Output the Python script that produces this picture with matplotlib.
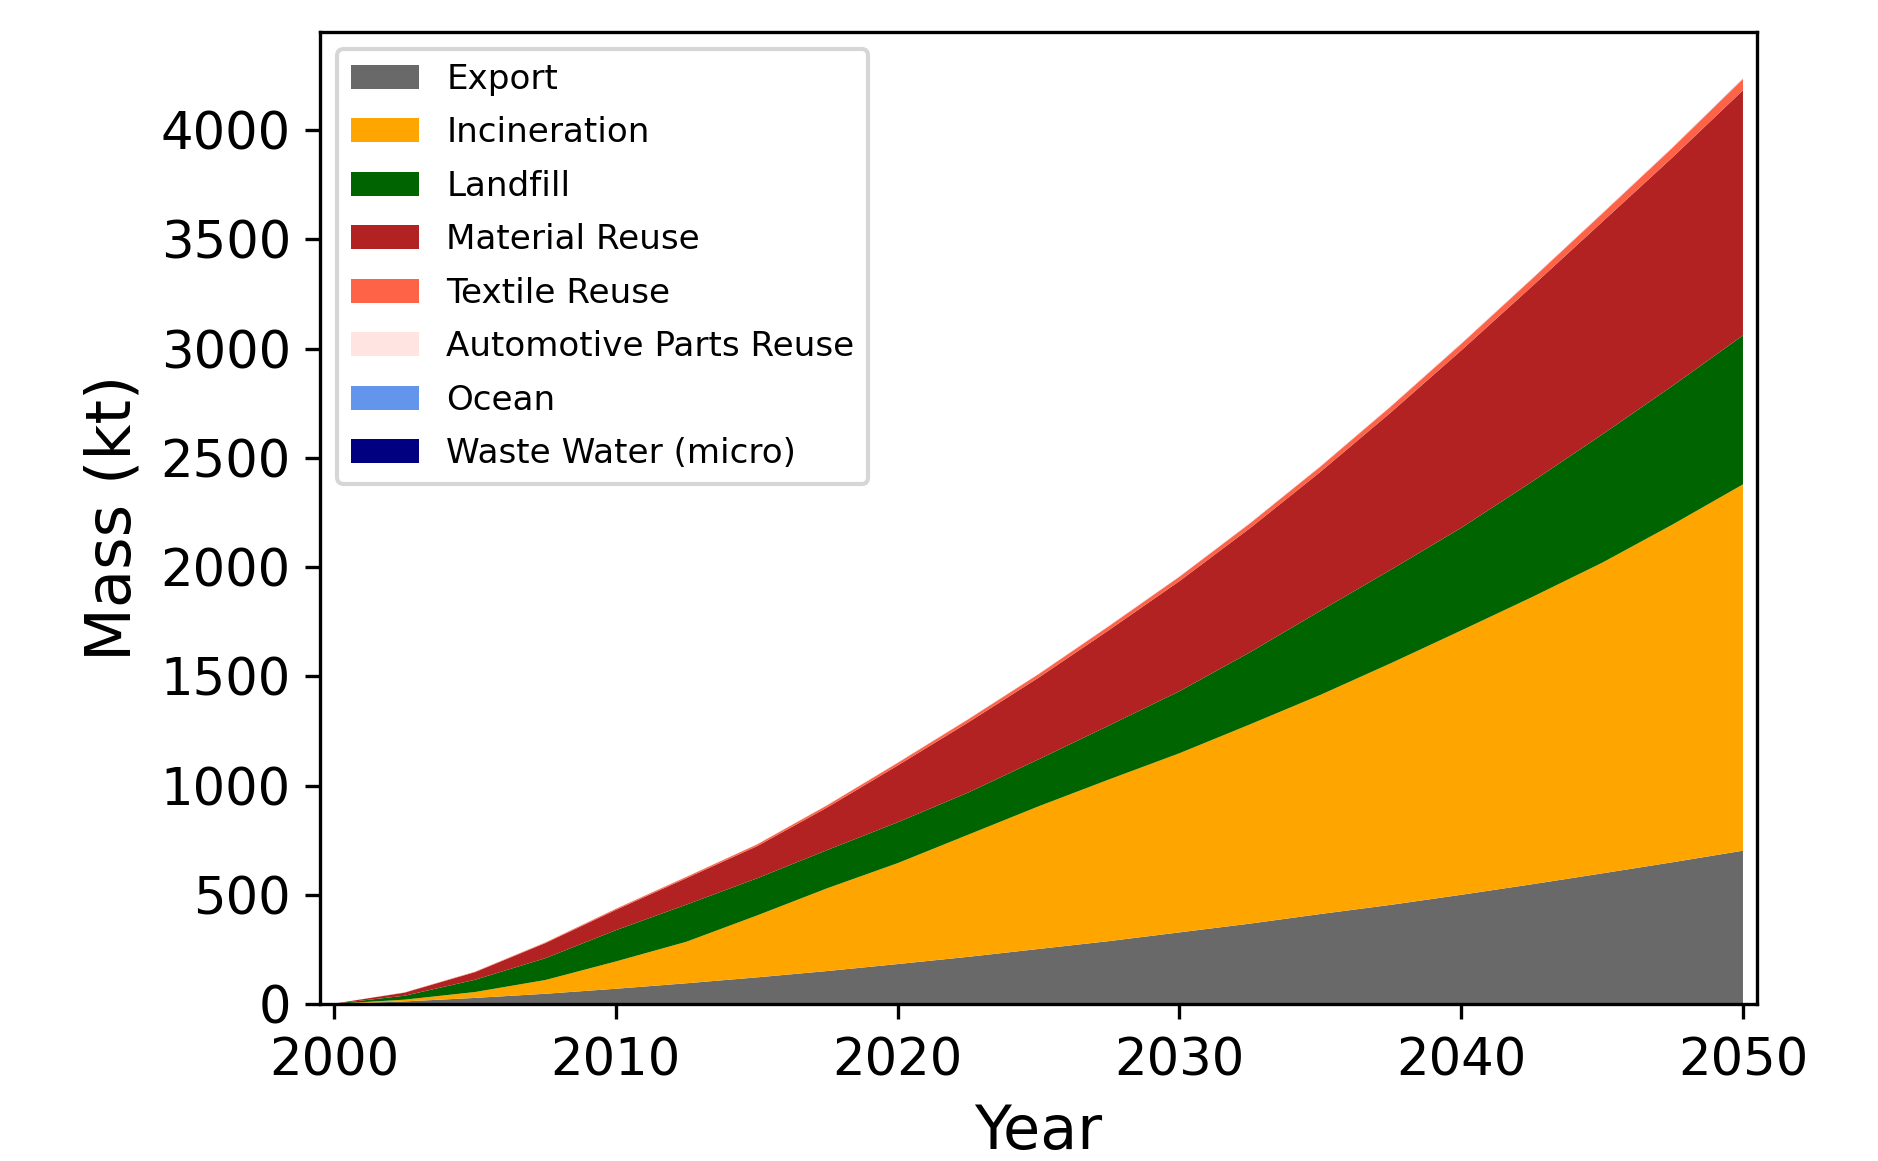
import numpy as np
import matplotlib
matplotlib.use("Agg")
import matplotlib.pyplot as plt

# mass flows per end-of-life route (kt)
years = [2000, 2002.5, 2005, 2007.5, 2010, 2012.5, 2015, 2017.5, 2020, 2022.5, 2025,
         2027.5, 2030, 2032.5, 2035, 2037.5, 2040, 2042.5, 2045, 2047.5, 2050]
export = [0.5, 12, 28, 47, 70, 95, 122, 151, 183, 216, 252,
          288, 328, 368, 412, 454, 500, 548, 598, 649, 702]
incineration = [0.5, 8, 27, 63, 125, 190, 283, 379, 462, 559, 653,
                740, 820, 912, 1003, 1106, 1210, 1314, 1422, 1546, 1677]
landfill = [0.5, 18, 56, 100, 143, 170, 170, 175, 187, 193, 215,
            247, 284, 330, 385, 428, 470, 528, 587, 635, 682]
material_reuse = [0.5, 14, 35, 69, 93, 121, 147, 195, 260, 321, 374,
                  437, 504, 568, 636, 720, 812, 894, 973, 1046, 1122]
textile_reuse = [0, 1, 2, 3, 5, 6, 8, 10, 12, 14, 16,
                 18, 20, 22, 24, 27, 30, 34, 38, 44, 52]
auto_parts_reuse = [0, 0.1, 0.2, 0.3, 0.4, 0.5, 0.6, 0.7, 0.8, 0.9, 1.0,
                    1.1, 1.2, 1.3, 1.4, 1.5, 1.6, 1.7, 1.8, 1.9, 2.0]
ocean = [0, 0.02, 0.05, 0.08, 0.1, 0.12, 0.15, 0.18, 0.2, 0.22, 0.25,
         0.28, 0.3, 0.32, 0.35, 0.38, 0.4, 0.42, 0.45, 0.48, 0.5]
waste_water = [0, 0.01, 0.02, 0.03, 0.04, 0.05, 0.06, 0.07, 0.08, 0.09, 0.1,
               0.11, 0.12, 0.13, 0.14, 0.15, 0.16, 0.17, 0.18, 0.19, 0.2]

labels = ["Export", "Incineration", "Landfill", "Material Reuse", "Textile Reuse",
          "Automotive Parts Reuse", "Ocean", "Waste Water (micro)"]
colors = ["dimgray", "orange", "darkgreen", "firebrick", "tomato",
          "mistyrose", "cornflowerblue", "navy"]

fig = plt.figure(figsize=(6.26, 3.87), dpi=300)
ax = fig.add_axes([0.1704, 0.1352, 0.7652, 0.8372])

ax.stackplot(years, export, incineration, landfill, material_reuse, textile_reuse,
             auto_parts_reuse, ocean, waste_water, labels=labels, colors=colors)

ax.set_xlim(1999.5, 2050.5)
ax.set_ylim(bottom=0)
ax.set_xticks([2000, 2010, 2020, 2030, 2040, 2050])
ax.set_yticks(np.arange(0, 4001, 500))
ax.tick_params(labelsize=12.3)
ax.tick_params(axis="x", pad=4.2)

ax.set_xlabel("Year", fontsize=14.5)
ax.set_ylabel("Mass (kt)", fontsize=15)
ax.legend(loc="upper left", fontsize=8.2, labelspacing=0.6)

fig.savefig("out.png", dpi=300)
